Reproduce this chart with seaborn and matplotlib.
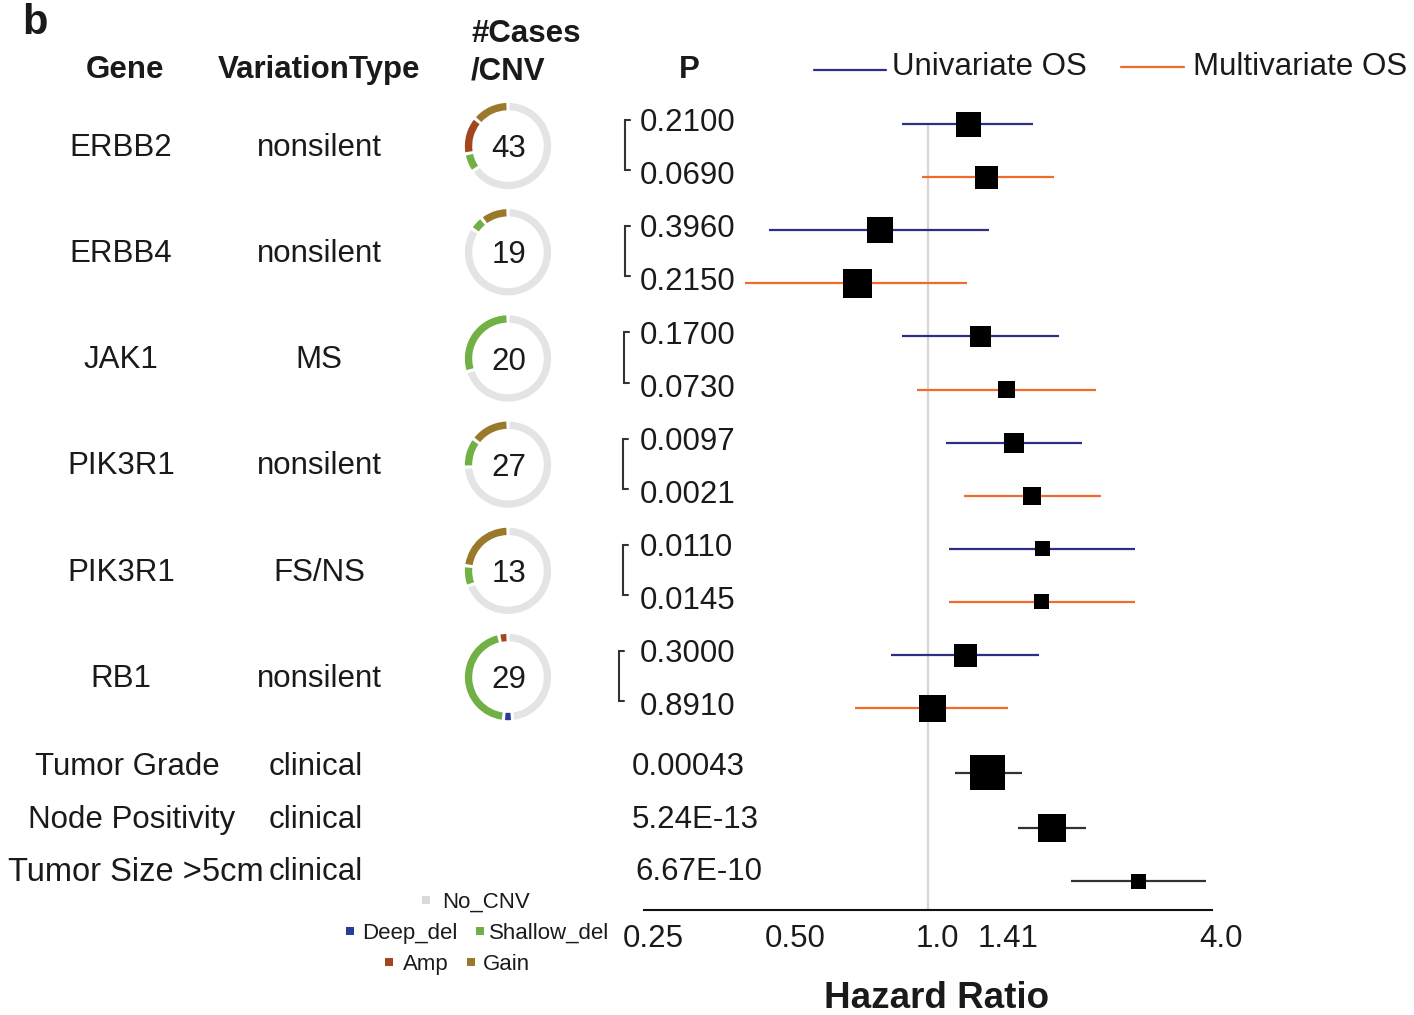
import numpy as np
import pandas as pd
import matplotlib
matplotlib.use("Agg")
import matplotlib.pyplot as plt
import matplotlib.transforms as mtransforms
from matplotlib.patches import Rectangle, Wedge
from matplotlib.ticker import NullLocator
import seaborn as sns

# ---------------- data ----------------
genes = ["ERBB2", "ERBB4", "JAK1", "PIK3R1", "PIK3R1", "RB1"]
variation = ["nonsilent", "nonsilent", "MS", "nonsilent", "FS/NS", "nonsilent"]
cases = [43, 19, 20, 27, 13, 29]
# CNV composition per gene (counts)
cnv_gain = [6, 2, 0, 4, 3, 0]
cnv_amp = [6, 0, 0, 0, 0, 1]
cnv_shallow = [3, 1, 6, 3, 1, 13]
cnv_deep = [0, 0, 0, 0, 0, 1]
cnv_none = [28, 16, 14, 20, 9, 14]

uni_p = ["0.2100", "0.3960", "0.1700", "0.0097", "0.0110", "0.3000"]
multi_p = ["0.0690", "0.2150", "0.0730", "0.0021", "0.0145", "0.8910"]
uni_hr = [1.22, 0.79, 1.29, 1.52, 1.75, 1.20]
uni_lo = [0.88, 0.46, 0.88, 1.09, 1.11, 0.835]
uni_hi = [1.67, 1.35, 1.90, 2.12, 2.75, 1.72]
multi_hr = [1.33, 0.71, 1.47, 1.66, 1.74, 1.02]
multi_lo = [0.97, 0.41, 0.95, 1.19, 1.11, 0.70]
multi_hi = [1.85, 1.21, 2.27, 2.33, 2.75, 1.48]
uni_weight = [25, 26, 21, 20, 15, 23]      # box size (px)
multi_weight = [23, 29, 17, 18, 15, 27]

clin_names = ["Tumor Grade", "Node Positivity", "Tumor Size >5cm"]
clin_type = ["clinical", "clinical", "clinical"]
clin_p = ["0.00043", "5.24E-13", "6.67E-10"]
clin_hr = [1.34, 1.83, 2.79]
clin_lo = [1.14, 1.55, 2.01]
clin_hi = [1.58, 2.16, 3.88]
clin_weight = [35, 28, 15]

xticks = [0.25, 0.3536, 0.5, 0.7071, 1.0, 1.4142, 4.0]
xticklabels = ["0.25", "", "0.50", "", "1.0", "1.41", "4.0"]

cnv_labels = ["Gain", "Amp", "Shallow_del", "Deep_del", "No_CNV"]
cnv_colors = {"Gain": "#9b792c", "Amp": "#a3461f", "Shallow_del": "#70b044",
              "Deep_del": "#2d3c98", "No_CNV": "#e4e4e4"}
UNI_C = "#2b2f86"
MULTI_C = "#f26a2a"
CLIN_C = "#333333"
TXT = "#1a1a1a"

# ---------------- layout (pixels) ----------------
W, H = 1414, 1015
ROW0, ROWH = 124, 53.1
AX_L, AX_R, AX_B, AX_T = 644, 1212, 910, 90
clin_rows = [12.22, 13.26, 14.26]


def rpx(r):
    return ROW0 + ROWH * r


sns.set_style("white")
plt.rcParams["font.family"] = ["Liberation Sans", "DejaVu Sans"]

fig = plt.figure(figsize=(W / 100, H / 100), dpi=100)
ov = fig.add_axes([0, 0, 1, 1])
ov.set_xlim(0, W)
ov.set_ylim(H, 0)
ov.axis("off")
ov.set_zorder(3)
ov.patch.set_visible(False)

ax = fig.add_axes([AX_L / W, 1 - AX_B / H, (AX_R - AX_L) / W, (AX_B - AX_T) / H])
ax.patch.set_visible(False)
ax.set_xscale("log", base=2)
ax.set_xlim(0.25, 4)
ax.set_ylim((AX_B - ROW0) / ROWH, (AX_T - ROW0) / ROWH)


def T(x, yc, s, size=22.5, ha="center", weight="normal", color=TXT):
    ov.text(x, yc + 0.358 * size * 100 / 72, s, fontsize=size, ha=ha,
            va="baseline", fontweight=weight, color=color)


# ---------------- forest data frame ----------------
recs = []
for i in range(len(genes)):
    recs.append(dict(hr=uni_hr[i], lo=uni_lo[i], hi=uni_hi[i], row=2 * i,
                     kind="Univariate OS", w=uni_weight[i]))
    recs.append(dict(hr=multi_hr[i], lo=multi_lo[i], hi=multi_hi[i], row=2 * i + 1,
                     kind="Multivariate OS", w=multi_weight[i]))
for j in range(len(clin_names)):
    recs.append(dict(hr=clin_hr[j], lo=clin_lo[j], hi=clin_hi[j], row=clin_rows[j],
                     kind="clinical", w=clin_weight[j]))
df = pd.DataFrame(recs)
df["area"] = (df["w"] * 0.72) ** 2

# reference line at HR = 1
ax.vlines(1.0, 0, (AX_B - ROW0) / ROWH, color="#d6d6d6", lw=1.6, zorder=1)

kind_colors = {"Univariate OS": UNI_C, "Multivariate OS": MULTI_C, "clinical": CLIN_C}
for kind, sub in df.groupby("kind"):
    ax.hlines(sub["row"], sub["lo"], sub["hi"], color=kind_colors[kind], lw=1.6, zorder=2)

amin, amax = df["area"].min(), df["area"].max()
sns.scatterplot(data=df, x="hr", y="row", size="area", sizes=(amin, amax),
                size_norm=(amin, amax), marker="s", color="black", linewidth=0,
                legend=False, ax=ax, zorder=4)

ax.set_xlabel("")
ax.set_ylabel("")
ax.set_yticks([])
ax.set_xticks(xticks)
ax.set_xticklabels(xticklabels)
ax.xaxis.set_minor_locator(NullLocator())
for s in ["left", "top", "right"]:
    ax.spines[s].set_visible(False)
ax.spines["bottom"].set_linewidth(1.5)
ax.spines["bottom"].set_color("#111111")
ax.tick_params(axis="x", length=5, width=1.5, labelsize=22.5, pad=5,
               direction="out", color="#111111", labelcolor=TXT)
offset = mtransforms.ScaledTranslation(9 / 100, 0, fig.dpi_scale_trans)
for lab in ax.get_xticklabels():
    lab.set_transform(lab.get_transform() + offset)

# ---------------- table text ----------------
T(35, 19, "b", 30, weight="bold")
T(125, 67, "Gene", weight="bold")
T(319, 67, "VariationType", weight="bold")
T(471, 31, "#Cases", ha="left", weight="bold")
T(471, 68, "/CNV", ha="left", weight="bold")
T(689, 67, "P", weight="bold")

GAP = 4.5  # degrees of white space between ring segments
bracket_x = [625, 625, 624, 623, 623, 619]
for i in range(len(genes)):
    mid = (rpx(2 * i) + rpx(2 * i + 1)) / 2
    T(121, mid - 6, genes[i])
    T(319, mid - 6, variation[i])
    T(640, rpx(2 * i) - 4, uni_p[i], ha="left")
    T(640, rpx(2 * i + 1) - 4, multi_p[i], ha="left")
    bx = bracket_x[i]
    top, bot = rpx(2 * i) - 4, rpx(2 * i + 1) - 7
    ov.plot([bx + 5, bx, bx, bx + 5], [top, top, bot, bot], color="#333333",
            lw=1.5, solid_joinstyle="miter")
    # donut ring
    cx, cy = 508, mid - 4.5
    pax = fig.add_axes([(cx - 44) / W, 1 - (cy + 44) / H, 88 / W, 88 / H])
    vals = [cnv_gain[i], cnv_amp[i], cnv_shallow[i], cnv_deep[i], cnv_none[i]]
    total = float(sum(vals))
    cum = 0.0
    for v, lab in zip(vals, cnv_labels):
        if v <= 0:
            continue
        t1 = 90 + cum / total * 360 + GAP / 2
        t2 = 90 + (cum + v) / total * 360 - GAP / 2
        pax.add_patch(Wedge((0, 0), 1.0, t1, t2, width=0.17,
                            facecolor=cnv_colors[lab], edgecolor="none"))
        cum += v
    pax.set_xlim(-1.02, 1.02)
    pax.set_ylim(-1.02, 1.02)
    pax.set_aspect("equal")
    pax.axis("off")
    T(cx + 1, cy, str(cases[i]))

clin_x = [127, 132, 8]
clin_ha = ["center", "center", "left"]
clin_size = [22.5, 22.5, 23.5]
clin_px = [632, 632, 635]
clin_dy = [-9, -11, -12]
for j in range(len(clin_names)):
    yc = rpx(clin_rows[j]) + clin_dy[j]
    T(clin_x[j], yc, clin_names[j], clin_size[j], ha=clin_ha[j])
    T(316, yc, clin_type[j])
    T(clin_px[j], yc, clin_p[j], ha="left")

# ---------------- legends ----------------
ov.plot([814, 886], [70, 70], color=UNI_C, lw=1.6)
T(892, 64, "Univariate OS", ha="left")
ov.plot([1121, 1184], [67, 67], color=MULTI_C, lw=1.6)
T(1193, 64, "Multivariate OS", ha="left")

legend_items = [("No_CNV", "#d9d9d9", 426, 442, 900),
                ("Deep_del", cnv_colors["Deep_del"], 350, 362, 931),
                ("Shallow_del", cnv_colors["Shallow_del"], 480, 489, 931),
                ("Amp", cnv_colors["Amp"], 389, 403, 962),
                ("Gain", cnv_colors["Gain"], 471, 483, 962)]
for name, col, sx, tx, yy in legend_items:
    ov.add_patch(Rectangle((sx - 4, yy - 4), 8, 8, color=col, lw=0))
    T(tx, yy, name, 16, ha="left")

T(937, 995, "Hazard Ratio", 26.5, weight="bold")

fig.savefig("out.png", dpi=100)
